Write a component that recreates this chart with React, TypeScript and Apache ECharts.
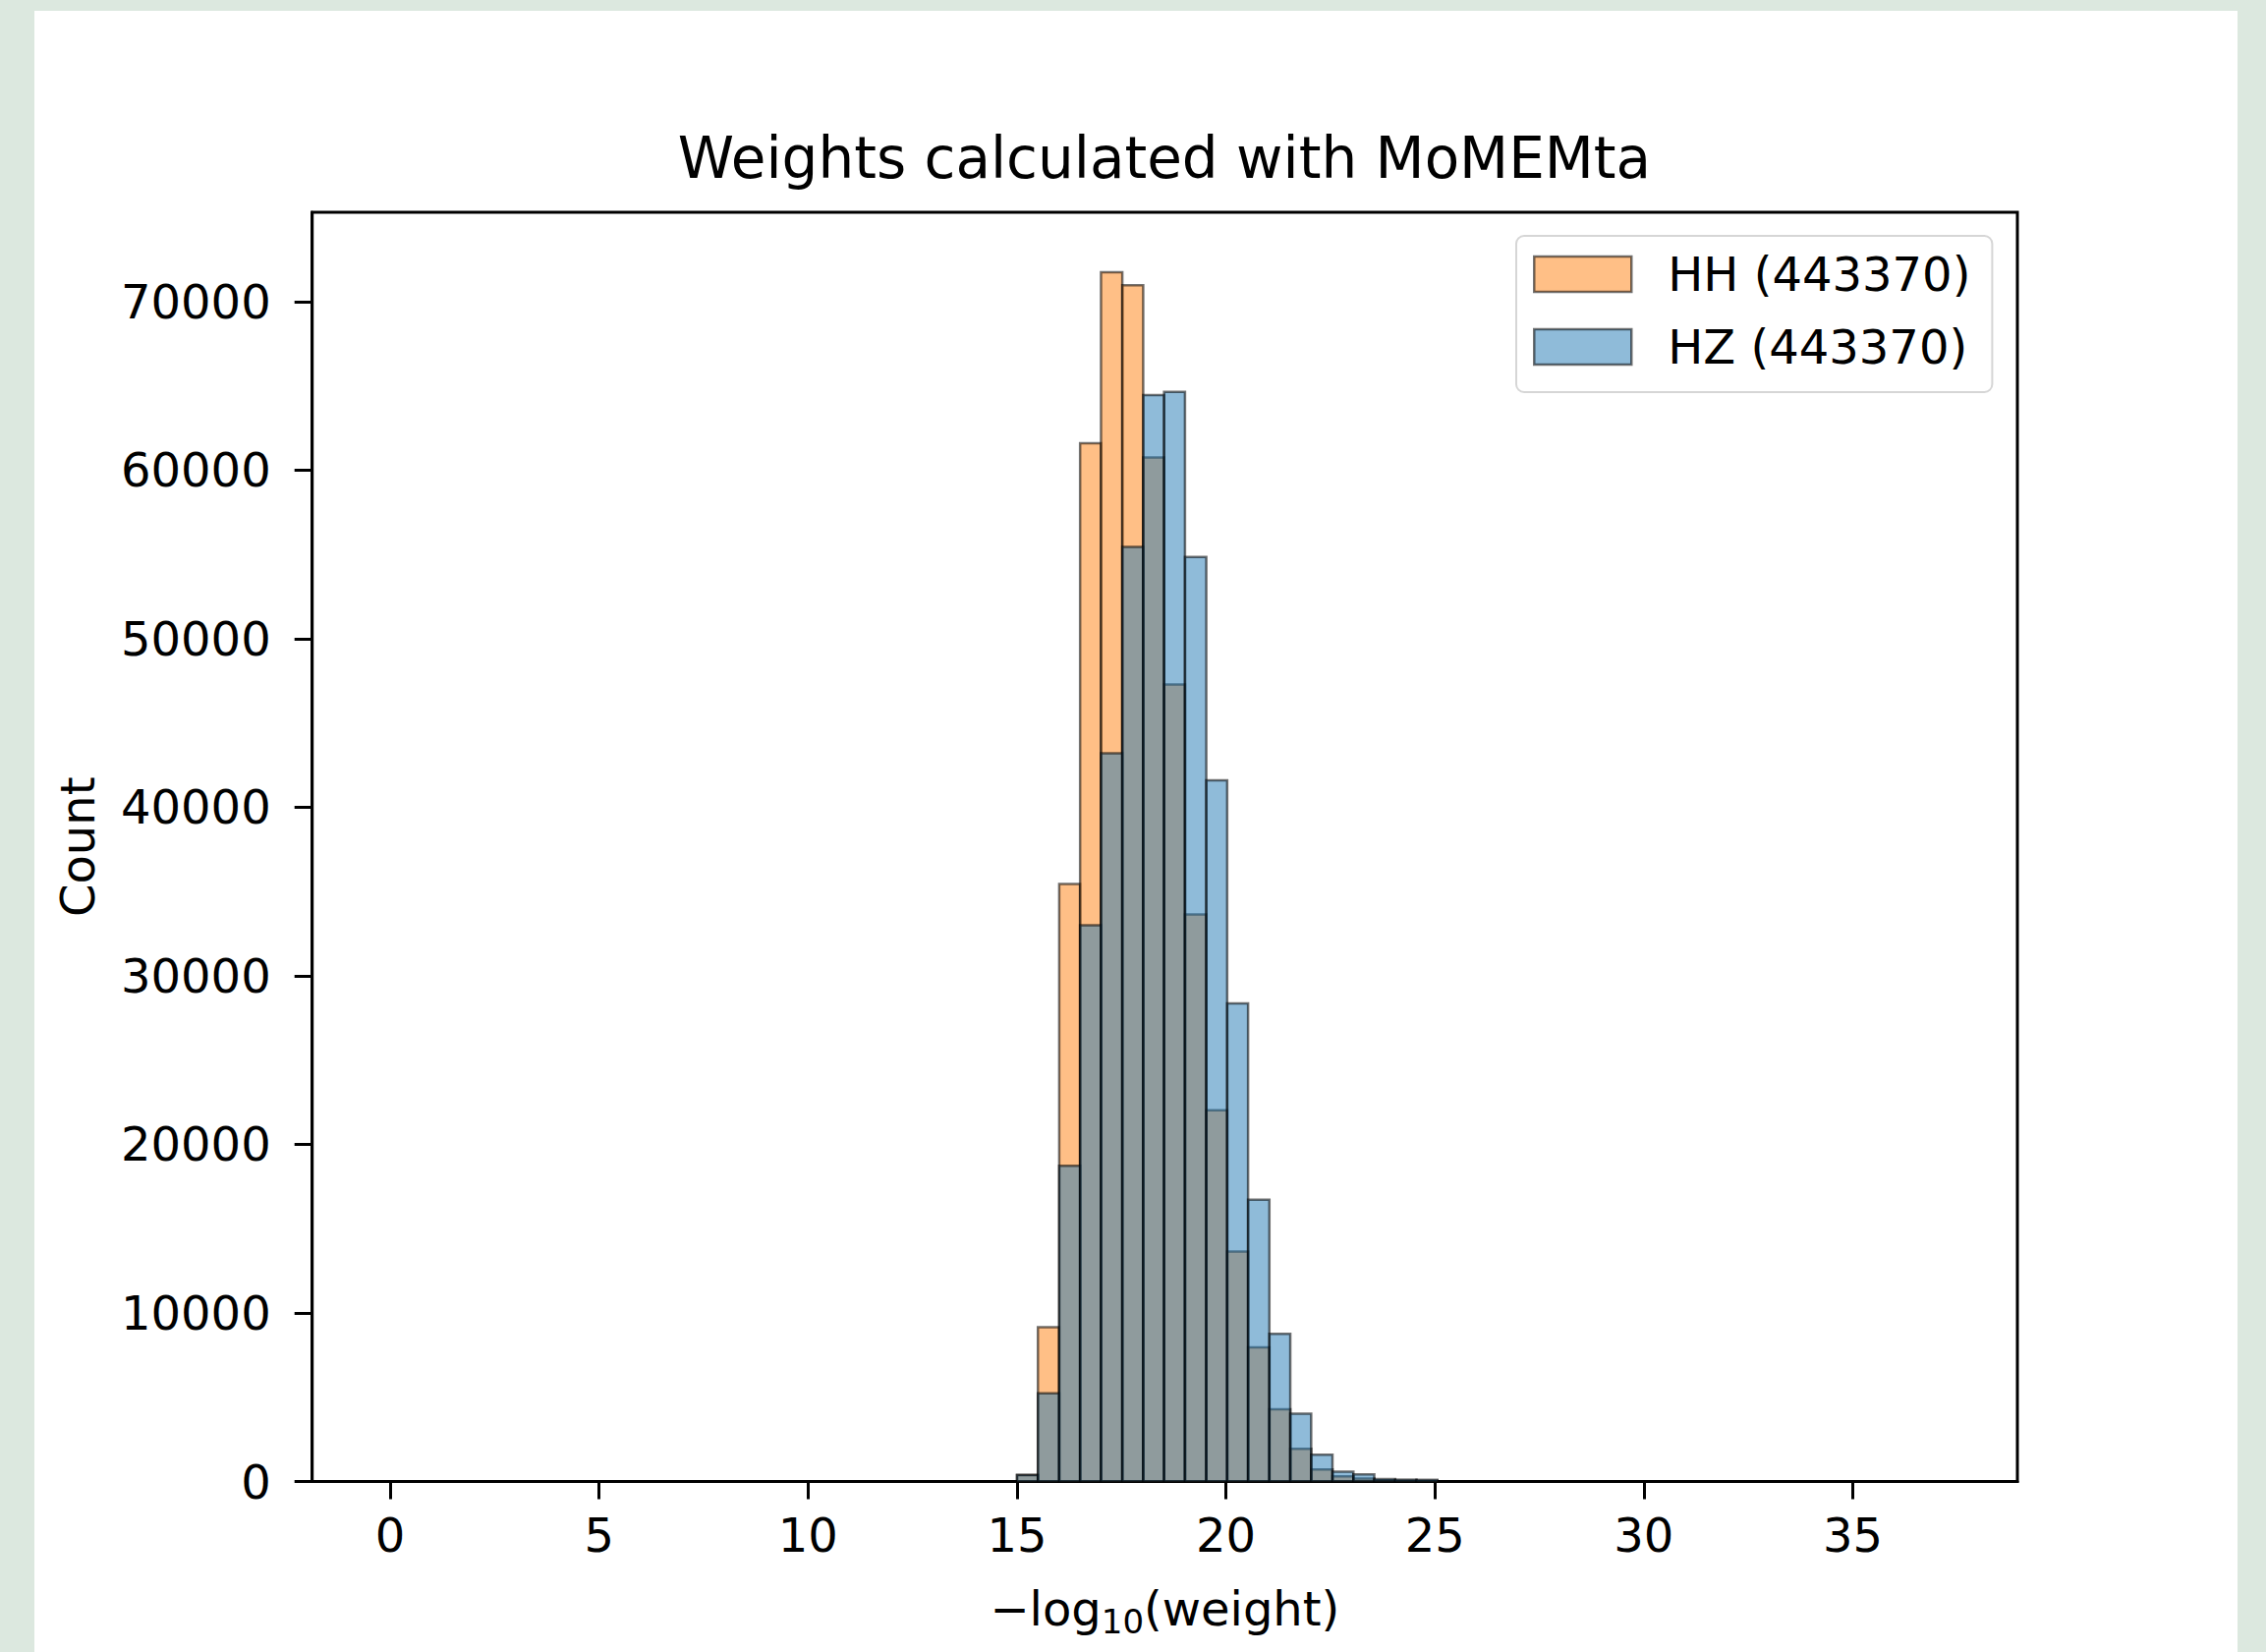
import React, { useEffect, useRef } from 'react';
import * as echarts from 'echarts';

// Histogram bin edges of -log10(weight)
const binEdges = [15.0, 15.5, 16.01, 16.51, 17.01, 17.52, 18.02, 18.52, 19.02, 19.53, 20.03, 20.53, 21.04, 21.54, 22.04, 22.55, 23.05, 23.55, 24.05, 24.56, 25.06];
// Counts per bin
const hhCounts = [390, 9150, 35450, 61600, 71750, 70970, 60750, 47290, 33640, 22025, 13640, 7955, 4280, 1940, 720, 310, 180, 70, 50, 40];
const hzCounts = [380, 5230, 18730, 33000, 43200, 55450, 64450, 64650, 54850, 41600, 28360, 16720, 8760, 4020, 1590, 580, 420, 150, 110, 100];
const seriesNames = ['HH (443370)', 'HZ (443370)'];
const xTickValues = [0, 5, 10, 15, 20, 25, 30, 35];
const yTickValues = [0, 10000, 20000, 30000, 40000, 50000, 60000, 70000];

const FONT = 'DejaVu Sans';
const HH_FILL = 'rgba(255,127,14,0.5)';
const HZ_FILL = 'rgba(31,119,180,0.5)';
const EDGE = 'rgba(0,0,0,0.55)';

function toData(counts: number[]) {
  return counts.map((c, i) => [binEdges[i], binEdges[i + 1], c]);
}

function makeRender(fill: string) {
  return (params: any, api: any) => {
    const x0 = api.value(0);
    const x1 = api.value(1);
    const y = api.value(2);
    const p0 = api.coord([x0, y]);
    const p1 = api.coord([x1, 0]);
    return {
      type: 'rect',
      shape: { x: p0[0], y: p0[1], width: p1[0] - p0[0], height: p1[1] - p0[1] },
      style: { fill, stroke: EDGE, lineWidth: 2.5 },
    };
  };
}

export default function App() {
  const ref = useRef<HTMLDivElement>(null);
  useEffect(() => {
    if (!ref.current) return;
    const chart = echarts.init(ref.current, undefined, { renderer: 'svg' });
    chart.setOption({
      animation: false,
      backgroundColor: '#dce8df',
      graphic: [
        { type: 'rect', z: -10, shape: { x: 35, y: 11, width: 2242, height: 1700 }, style: { fill: '#ffffff' } },
        {
          type: 'text', x: 1185, y: 161,
          style: { text: 'Weights calculated with MoMEMta', fontSize: 58, fontFamily: FONT, fill: '#000', align: 'center', verticalAlign: 'middle' },
        },
      ],
      grid: { left: 317.7, top: 216, width: 1735.3, height: 1291.5, show: true, borderColor: '#000', borderWidth: 3, backgroundColor: 'transparent', outerBoundsMode: 'none', containLabel: false },
      legend: {
        orient: 'vertical',
        left: 1543,
        top: 240,
        itemWidth: 99,
        itemHeight: 36,
        itemGap: 26,
        padding: [15, 22, 22, 17],
        backgroundColor: '#fff',
        borderColor: '#d6d6d6',
        borderWidth: 2,
        borderRadius: 8,
        textStyle: { fontSize: 48, fontFamily: FONT, color: '#000', padding: [0, 0, 0, 32] },
        data: [
          { name: seriesNames[0], icon: 'rect', itemStyle: { color: HH_FILL, borderColor: EDGE, borderWidth: 2.5 } },
          { name: seriesNames[1], icon: 'rect', itemStyle: { color: HZ_FILL, borderColor: EDGE, borderWidth: 2.5 } },
        ],
      },
      xAxis: {
        type: 'value',
        min: -1.867,
        max: 38.94,
        name: '{a|\u2212log}{b|10}{a|(weight)}',
        nameLocation: 'middle',
        nameGap: 99,
        nameTextStyle: {
          rich: {
            a: { fontSize: 48, fontFamily: FONT, color: '#000' },
            b: { fontSize: 34, fontFamily: FONT, color: '#000', padding: [26, 0, 0, 0] },
          },
        },
        axisLine: { show: true, onZero: false, lineStyle: { color: '#000', width: 3 } },
        axisTick: { show: true, length: 18, lineStyle: { color: '#000', width: 3 }, customValues: xTickValues },
        axisLabel: { fontSize: 48, fontFamily: FONT, color: '#000', margin: 30, customValues: xTickValues, formatter: (v: number) => String(v) },
        splitLine: { show: false },
      },
      yAxis: {
        type: 'value',
        min: 0,
        max: 75300,
        name: 'Count',
        nameLocation: 'middle',
        nameGap: 215,
        nameTextStyle: { fontSize: 48, fontFamily: FONT, color: '#000' },
        axisLine: { show: true, onZero: false, lineStyle: { color: '#000', width: 3 } },
        axisTick: { show: true, length: 18, lineStyle: { color: '#000', width: 3 }, customValues: yTickValues },
        axisLabel: { fontSize: 48, fontFamily: FONT, color: '#000', margin: 42, customValues: yTickValues, formatter: (v: number) => String(v) },
        splitLine: { show: false },
      },
      series: [
        {
          name: seriesNames[0],
          type: 'custom',
          renderItem: makeRender(HH_FILL),
          encode: { x: [0, 1], y: 2 },
          itemStyle: { color: HH_FILL, borderColor: EDGE },
          data: toData(hhCounts),
        },
        {
          name: seriesNames[1],
          type: 'custom',
          renderItem: makeRender(HZ_FILL),
          encode: { x: [0, 1], y: 2 },
          itemStyle: { color: HZ_FILL, borderColor: EDGE },
          data: toData(hzCounts),
        },
      ],
    });
    return () => chart.dispose();
  }, []);
  return <div ref={ref} style={{ position: 'fixed', left: 0, top: 0, width: 2306, height: 1681 }} />;
}
